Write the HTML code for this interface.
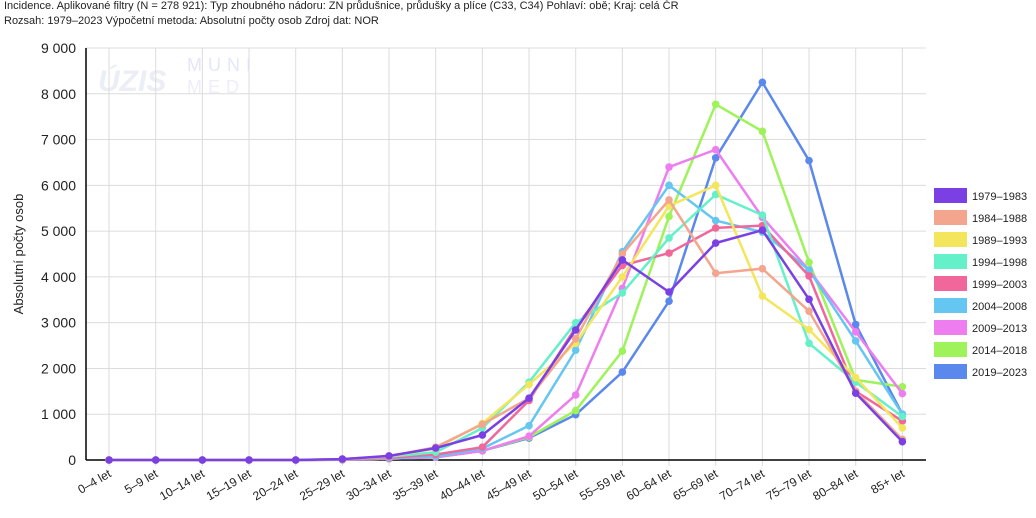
<!DOCTYPE html>
<html><head><meta charset="utf-8"><style>
body{margin:0;background:#fff;width:1036px;height:518px;overflow:hidden;font-family:"Liberation Sans",sans-serif}
.hdr{position:absolute;left:4px;font-size:11px;line-height:13px;color:#222;white-space:nowrap}
</style></head><body>
<div class="hdr" style="top:0px">Incidence. Aplikované filtry (N = 278 921): Typ zhoubného nádoru: ZN průdušnice, průdušky a plíce (C33, C34) Pohlaví: obě; Kraj: celá ČR</div>
<div class="hdr" style="top:15px">Rozsah: 1979–2023 Výpočetní metoda: Absolutní počty osob Zdroj dat: NOR</div>
<svg id="chart" width="1036" height="518" style="position:absolute;left:0;top:0" font-family="Liberation Sans, sans-serif"></svg>
<script>
const categories=["0–4 let","5–9 let","10–14 let","15–19 let","20–24 let","25–29 let","30–34 let","35–39 let","40–44 let","45–49 let","50–54 let","55–59 let","60–64 let","65–69 let","70–74 let","75–79 let","80–84 let","85+ let"];
const seriesNames=["1979–1983","1984–1988","1989–1993","1994–1998","1999–2003","2004–2008","2009–2013","2014–2018","2019–2023"];
const s1979=[0,0,0,0,0,20,90,260,546,1350,2840,4370,3670,4740,5020,3510,1460,400];
const s1984=[0,0,0,0,0,20,80,280,780,1350,2650,4500,5680,4080,4180,3250,1500,450];
const s1989=[0,0,0,0,0,20,80,250,800,1650,2550,4000,5550,6000,3580,2850,1800,700];
const s1994=[0,0,0,0,0,15,70,170,700,1700,3000,3650,4850,5800,5350,2550,1700,950];
const s1999=[0,0,0,0,0,10,50,120,280,1300,2900,4250,4520,5070,5120,4020,1500,850];
const s2004=[0,0,0,0,0,10,40,80,250,750,2400,4550,6000,5230,4980,4150,2600,1000];
const s2009=[0,0,0,0,0,5,30,60,200,520,1420,3750,6400,6780,5300,4150,2800,1450];
const s2014=[0,0,0,0,0,5,30,60,200,500,1080,2380,5320,7770,7180,4320,1750,1600];
const s2019=[0,0,0,0,0,5,30,60,200,480,990,1920,3470,6600,8250,6540,2960,1000];
const yTicks=[0,1000,2000,3000,4000,5000,6000,7000,8000,9000];
const yTickLabels=["0","1 000","2 000","3 000","4 000","5 000","6 000","7 000","8 000","9 000"];
const allSeries=[s1979,s1984,s1989,s1994,s1999,s2004,s2009,s2014,s2019];
const colors=["#7b40e4","#f4a58e","#f4e65c","#64f0c8","#f1679c","#66c6f2","#ee7ef0","#9ef25a","#5b88ec"];
const NS="http://www.w3.org/2000/svg";
const svg=document.getElementById('chart');
const L=86,R=926,T=48,B=460,YMAX=9000;
const band=(R-L)/categories.length;
const x=i=>L+band*(i+0.5)-0.3;
const y=v=>B-(v/YMAX)*(B-T);
function mk(tag,attrs){const e=document.createElementNS(NS,tag);for(const k in attrs)e.setAttribute(k,attrs[k]);svg.appendChild(e);return e;}
let w1=mk('text',{x:98,y:91,'font-size':30,'font-style':'italic','font-weight':'bold',fill:'#eceef6'});w1.textContent='ÚZIS';


let w2=mk('text',{x:187,y:71,'font-size':18,fill:'#e6e6fa','letter-spacing':'6'});w2.textContent='MUNI';


let w3=mk('text',{x:187,y:93,'font-size':18,fill:'#eeeefa','letter-spacing':'6'});w3.textContent='MED';


yTicks.forEach((v,i)=>{
 const g=mk('line',{x1:L,x2:R,y1:y(v),y2:y(v),stroke:'#dcdcdc','stroke-width':1});
 
 
 const t=mk('text',{x:76,y:y(v)+5,'text-anchor':'end','font-size':14,fill:'#222'});t.textContent=yTickLabels[i];
 
 
});
categories.forEach((c,i)=>{
 const g=mk('line',{x1:x(i),x2:x(i),y1:T,y2:B+6,stroke:'#dcdcdc','stroke-width':1});
 
 
 const t=mk('text',{x:x(i)+3,y:B+16,'text-anchor':'end','font-size':12,fill:'#222',transform:`rotate(-30 ${x(i)+3} ${B+16})`});t.textContent=c;
 
 
});
let ax=mk('line',{x1:L,x2:L,y1:T,y2:B,stroke:'#000','stroke-width':1.5});


let bx=mk('line',{x1:L,x2:R,y1:B,y2:B,stroke:'#000','stroke-width':1.5});


let yt=mk('text',{x:23,y:254,'text-anchor':'middle','font-size':13,fill:'#222',transform:'rotate(-90 23 254)'});yt.textContent='Absolutní počty osob';


for(let s=allSeries.length-1;s>=0;s--){
 const d=allSeries[s];
 const p=mk('polyline',{points:d.map((v,i)=>x(i)+','+y(v)).join(' '),fill:'none',stroke:colors[s],'stroke-width':2.5,'stroke-linejoin':'round'});
 
 
 d.forEach((v,i)=>{
  const c=mk('circle',{cx:x(i),cy:y(v),r:3.8,fill:colors[s]});
  
  
 });
}
seriesNames.forEach((n,i)=>{
 const r=mk('rect',{x:934,y:188+22*i,width:33,height:15,fill:colors[i]});
 
 
 const t=mk('text',{x:972,y:200+22*i,'font-size':11,fill:'#222'});t.textContent=n;
 
 
});
</script>
</body></html>
